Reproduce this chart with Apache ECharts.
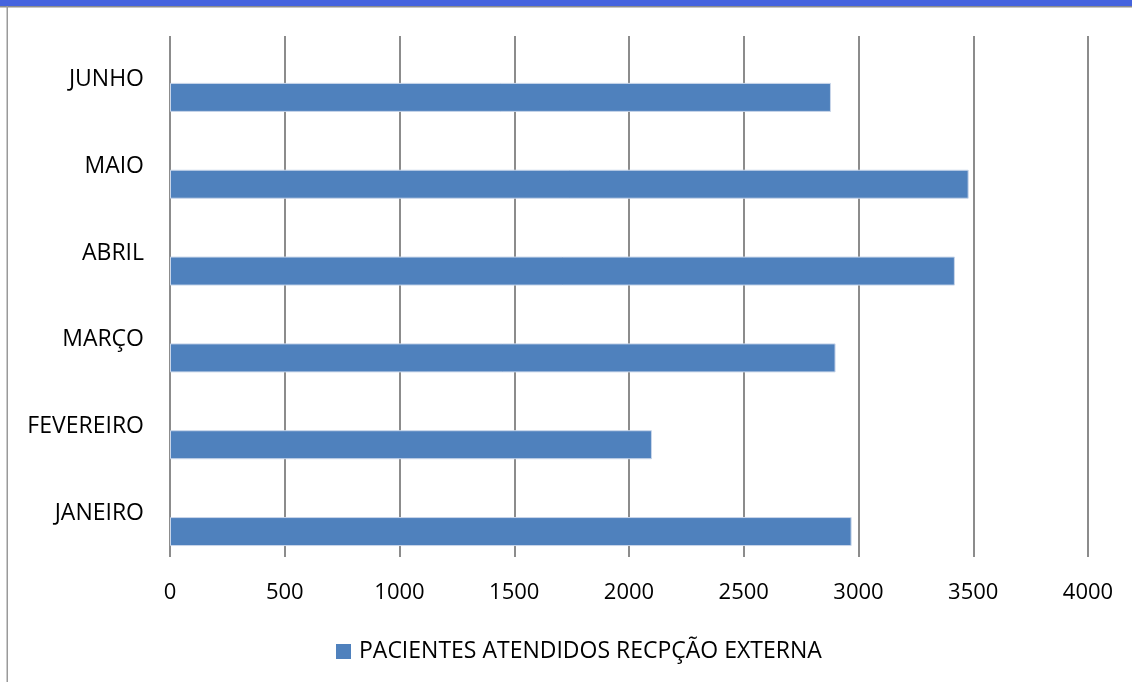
<!DOCTYPE html>
<html>
<head>
<meta charset="utf-8">
<script src="https://cdn.jsdelivr.net/npm/echarts@6/dist/echarts.min.js"></script>
<style>
html,body{margin:0;padding:0;background:#fff;}
#chart{width:1132px;height:682px;}
</style>
</head>
<body>
<div id="chart"></div>
<script>
const categories = ['JANEIRO', 'FEVEREIRO', 'MARÇO', 'ABRIL', 'MAIO', 'JUNHO'];
const seriesName = 'PACIENTES ATENDIDOS RECPÇÃO EXTERNA';
const values = [2970, 2100, 2900, 3420, 3480, 2880];
const xTicks = [0, 500, 1000, 1500, 2000, 2500, 3000, 3500, 4000];

const FONT = 'Open Sans';
const chart = echarts.init(document.getElementById('chart'), null, {renderer: 'canvas'});
chart.setOption({
  animation: false,
  backgroundColor: '#ffffff',
  textStyle: {fontFamily: FONT},
  graphic: [
    {type: 'rect', shape: {x: 0, y: 0, width: 1132, height: 6}, style: {fill: '#4563DE'}, silent: true},
    {type: 'rect', shape: {x: 0, y: 6, width: 1132, height: 1.5}, style: {fill: '#8C8C8C'}, silent: true},
    {type: 'rect', shape: {x: 6.5, y: 6, width: 1.5, height: 676}, style: {fill: '#9A9A9A'}, silent: true}
  ],
  grid: {left: 170, right: 44, top: 36, bottom: 125, containLabel: false},
  legend: {
    data: [seriesName],
    top: 640,
    left: 336,
    padding: 0,
    itemWidth: 15,
    itemHeight: 15,
    itemGap: 6,
    icon: 'rect',
    itemStyle: {color: '#4F81BD', borderWidth: 0},
    textStyle: {fontFamily: FONT, fontSize: 23, color: '#000', padding: [0, 0, 0, 3]}
  },
  xAxis: {
    type: 'value',
    min: xTicks[0],
    max: xTicks[xTicks.length - 1],
    interval: 500,
    axisLine: {show: false},
    axisTick: {show: false},
    splitLine: {show: true, lineStyle: {color: '#8C8C8C', width: 2}},
    axisLabel: {fontFamily: FONT, fontSize: 22, color: '#000', margin: 25, formatter: v => String(v)}
  },
  yAxis: {
    type: 'category',
    data: categories,
    axisLine: {show: false},
    axisTick: {show: false},
    axisLabel: {fontFamily: FONT, fontSize: 23, color: '#000', margin: 26}
  },
  series: [
    {
      name: 'dummy',
      type: 'bar',
      data: categories.map(() => null),
      barWidth: 29,
      barGap: '24%'
    },
    {
      name: seriesName,
      type: 'bar',
      data: values,
      barWidth: 29,
      barGap: '24%',
      itemStyle: {color: '#4F81BD', borderColor: '#C9D6EA', borderWidth: 1}
    }
  ],
  color: ['#4F81BD', '#4F81BD']
});
</script>
</body>
</html>
